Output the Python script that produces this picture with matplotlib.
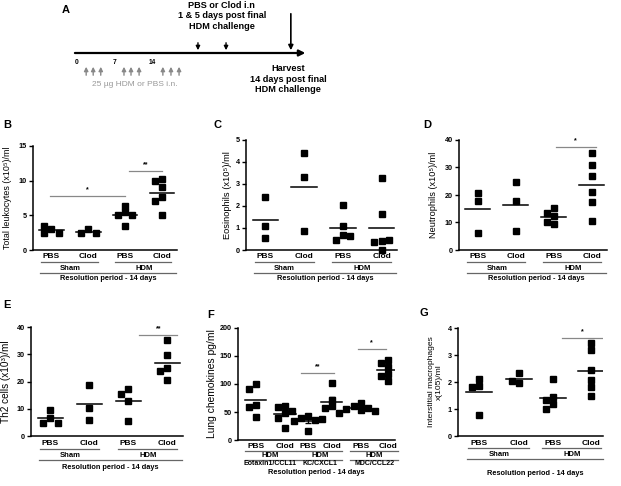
import numpy as np
import matplotlib.pyplot as plt
from matplotlib.transforms import blended_transform_factory

plt.rcParams['font.family'] = ['Liberation Sans', 'DejaVu Sans']
plt.rcParams['font.weight'] = 'bold'

# ---- data ----
groups4 = ['PBS', 'Clod', 'PBS', 'Clod']
treat = ['Sham', 'HDM']
period = 'Resolution period - 14 days'

leukocytes = [[3.1, 3.4, 2.4, 2.5], [3.0, 2.5, 2.5],
              [6.4, 5.5, 5.0, 5.0, 3.4], [10.2, 9.9, 9.1, 7.6, 7.1, 5.0]]
eosinophils = [[2.4, 1.1, 0.53], [4.4, 3.3, 0.87],
               [2.06, 1.1, 0.66, 0.44, 0.64], [3.26, 1.65, 0.4, 0.35, 0.47, 0.0]]
neutrophils = [[20.6, 17.8, 6.2], [24.8, 17.9, 6.9],
               [15.2, 13.6, 12.3, 9.4, 10.2], [35.2, 31.0, 26.9, 21.0, 17.6, 10.6]]
th2 = [[9.6, 6.5, 4.9, 4.9], [18.7, 10.2, 5.8],
       [17.3, 15.5, 13.0, 5.5], [35.2, 29.6, 24.8, 23.7, 20.6]]
chemokines = [[100.6, 90.4, 63.0, 59.6, 40.4], [61.0, 59.6, 52.0, 47.6, 39.0, 22.0],
              [43.0, 40.0, 35.5, 34.0, 36.7, 16.3], [102.0, 72.0, 60.0, 58.0, 49.0],
              [66.0, 60.0, 57.0, 56.0, 54.0, 52.0], [143.0, 138.0, 131.0, 117.0, 114.0, 105.0]]
chemo_names = ['Eotaxin1/CCL11', 'KC/CXCL1', 'MDC/CCL22']
chemo_sem = [False, False, True, True, True, True]
macrophages = [[2.12, 1.86, 1.83, 0.76], [2.35, 1.96, 2.02],
               [2.12, 1.46, 1.34, 1.19, 1.0], [3.44, 3.2, 2.45, 2.06, 1.8, 1.49]]

# timeline (schematic, in days)
day_labels = [0, 7, 14]
hdm_days = [1.7, 3.0, 4.4, 8.7, 10.0, 11.5, 15.9, 17.4, 18.9]
treat_days = [22.4, 27.6]
harvest_day = 39.6

W, H = 621, 486
fig = plt.figure(figsize=(6.21, 4.86), dpi=100)


def box(l, t, r, b):
    return [l / W, 1 - b / H, (r - l) / W, (b - t) / H]


def swarm(vals, ppx, ppy, size=6.5):
    placed = []
    offs = []
    cands = [0, -0.55, 0.55, -1.1, 1.1, -1.65, 1.65, -2.2, 2.2]
    for v in vals:
        y = v * ppy
        for c in cands:
            x = c * size
            if all(abs(x - px) >= size * 0.95 or abs(y - py) >= size * 0.95 for px, py in placed):
                break
        placed.append((x, y))
        offs.append(x / ppx)
    return np.array(offs)


def panel(px, xlim, ylim, yticks, ylabel, ylab_x, letter, letter_xy, lab_fs=6.5):
    l, t, r, b = px
    ax = fig.add_axes(box(l, t, r, b))
    ax.set_xlim(xlim)
    ax.set_ylim(ylim)
    ax.set_yticks(yticks)
    ax.set_xticks([])
    for s in ['top', 'right']:
        ax.spines[s].set_visible(False)
    for s in ['left', 'bottom']:
        ax.spines[s].set_linewidth(1.1)
    ax.tick_params(axis='y', length=3, width=1, labelsize=5.2, pad=1.5)
    ax.set_ylabel(ylabel, fontsize=lab_fs, linespacing=1.1)
    # label x is the right edge of the rotated text
    ax.yaxis.set_label_coords((ylab_x - l) / (r - l), 0.5)
    fig.text(letter_xy[0] / W, 1 - letter_xy[1] / H, letter, fontsize=8,
             ha='left', va='center')
    ppx = (r - l) / (xlim[1] - xlim[0])
    ppy = (b - t) / (ylim[1] - ylim[0])
    return ax, ppx, ppy, b - t


def dots(ax, ppx, ppy, pos, data, hw=0.33, sem=None):
    for i, (x, vals) in enumerate(zip(pos, data)):
        vals = np.array(vals)
        off = swarm(vals, ppx, ppy)
        ax.plot(x + off, vals, 's', color='black', ms=4.3, clip_on=False, zorder=3)
        m = vals.mean()
        ax.plot([x - hw, x + hw], [m, m], color='black', lw=1.1, zorder=4)
        if sem is not None and sem[i]:
            e = vals.std(ddof=1) / np.sqrt(len(vals))
            ax.errorbar(x, m, yerr=e, color='black', lw=1.0, capsize=2.5,
                        capthick=1.0, zorder=4)


def sig(ax, x1, x2, y, txt):
    ax.plot([x1, x2], [y, y], color='#888888', lw=0.9)
    ax.annotate(txt, ((x1 + x2) / 2, y), xytext=(0, 2), textcoords='offset points',
                ha='center', va='bottom', fontsize=5)


def under(ax, h, dy):
    return -dy / h


def xlabels(ax, h, pos, rows, res_dy, xr):
    tr = blended_transform_factory(ax.transData, ax.transAxes)
    cat_dy, line_dy, grp_dy, rline_dy = rows
    for x, g in zip(pos, groups4):
        ax.text(x, under(ax, h, cat_dy), g, transform=tr, ha='center', va='center', fontsize=6)
    for k, name in enumerate(treat):
        a, c = pos[2 * k], pos[2 * k + 1]
        y = under(ax, h, line_dy)
        ax.plot([a - 0.28, c + 0.25], [y, y], transform=tr, color='#666666', lw=0.9, clip_on=False)
        ax.text((a + c) / 2, under(ax, h, grp_dy), name, transform=tr, ha='center',
                va='center', fontsize=5.5)
    y = under(ax, h, rline_dy)
    ax.plot([pos[0] - 0.3, xr], [y, y], transform=tr, color='#666666', lw=0.9, clip_on=False)
    ax.text((pos[0] - 0.3 + xr) / 2, under(ax, h, res_dy), period, transform=tr,
            ha='center', va='center', fontsize=5.3)


# ---- A: timeline ----
axa = fig.add_axes(box(0, 0, W, 110))
axa.set_xlim(-77 / 5.4, (W - 77) / 5.4)
axa.set_ylim(110, 0)
axa.axis('off')
fig.text(62 / W, 1 - 10 / H, 'A', fontsize=8, ha='left', va='center')
axa.annotate('', xy=(42.8, 53), xytext=(-0.9, 53),
             arrowprops=dict(arrowstyle='-|>', color='black', lw=1.6, mutation_scale=9))
for d in day_labels:
    axa.text(d, 63, str(d), ha='center', va='center', fontsize=4.8)
for d in hdm_days:
    axa.annotate('', xy=(d, 64), xytext=(d, 78),
                 arrowprops=dict(arrowstyle='-|>', color='#888888', lw=1.0, mutation_scale=6))
axa.text(10.7, 85, '25 µg HDM or PBS i.n.', ha='center', va='center', fontsize=6,
         color='#999999', fontweight='normal')
for d in treat_days:
    axa.annotate('', xy=(d, 53), xytext=(d, 40),
                 arrowprops=dict(arrowstyle='-|>', color='black', lw=1.0, mutation_scale=6))
axa.annotate('', xy=(harvest_day, 53), xytext=(harvest_day, 11),
             arrowprops=dict(arrowstyle='-|>', color='black', lw=1.2, mutation_scale=7))
axa.text(26.8, 16, 'PBS or Clod i.n\n1 & 5 days post final\nHDM challenge', ha='center',
         va='center', fontsize=6.6, linespacing=1.15)
axa.text(39.1, 79, 'Harvest\n14 days post final\nHDM challenge', ha='center',
         va='center', fontsize=6.6, linespacing=1.15)

pos4 = np.array([1, 2, 3, 4])
rows = (7, 12, 18, 23)

# ---- B ----
ax, ppx, ppy, h = panel((33, 146, 177, 250), (0.5, 4.4), (0, 15), [0, 5, 10, 15],
                        'Total leukocytes (x10⁵)/ml', 12, 'B', (3, 125), 6.4)
dots(ax, ppx, ppy, pos4, leukocytes)
sig(ax, 0.95, 3.0, 7.8, '*')
sig(ax, 3.1, 4.0, 11.4, '**')
xlabels(ax, h, pos4, rows, 29, 4.38)

# ---- C ----
ax, ppx, ppy, h = panel((246, 140, 397, 250), (0.5, 4.4), (0, 5), [0, 1, 2, 3, 4, 5],
                        'Eosinophils (x10⁵)/ml', 232, 'C', (214, 125), 6.7)
dots(ax, ppx, ppy, pos4, eosinophils)
xlabels(ax, h, pos4, rows, 29, 4.38)

# ---- D ----
ax, ppx, ppy, h = panel((459, 140, 607, 250), (0.5, 4.4), (0, 40), [0, 10, 20, 30, 40],
                        'Neutrophils (x10⁵)/ml', 438, 'D', (423, 125), 6.6)
dots(ax, ppx, ppy, pos4, neutrophils)
sig(ax, 3.05, 4.1, 37.5, '*')
xlabels(ax, h, pos4, rows, 29, 4.38)

# ---- E ----
ax, ppx, ppy, h = panel((31, 327, 183, 436), (0.5, 4.4), (0, 40), [0, 10, 20, 30, 40],
                        'Th2 cells (x10³)/ml', 11, 'E', (3, 305), 7.2)
dots(ax, ppx, ppy, pos4, th2)
sig(ax, 3.28, 4.25, 37, '**')
xlabels(ax, h, pos4, (7, 13, 19, 24), 31, 4.38)

# ---- F ----
pos6 = np.array([1, 2.1, 2.97, 3.88, 4.97, 6.0])
ax, ppx, ppy, h = panel((238, 328, 395, 440), (0.32, 6.27), (0, 200), [0, 50, 100, 150, 200],
                        'Lung chemokines pg/ml', 217, 'F', (207, 315), 7.4)
dots(ax, ppx, ppy, pos6, chemokines, hw=0.4, sem=chemo_sem)
sig(ax, 2.7, 3.95, 120, '**')
sig(ax, 4.86, 5.92, 162, '*')
tr = blended_transform_factory(ax.transData, ax.transAxes)
for k, x in enumerate(pos6):
    ax.text(x, under(ax, h, 6), ['PBS', 'Clod'][k % 2], transform=tr, ha='center',
            va='center', fontsize=6)
for k, name in enumerate(chemo_names):
    a, c = pos6[2 * k], pos6[2 * k + 1]
    y = under(ax, h, 11)
    ax.plot([a - 0.4, c + 0.4], [y, y], transform=tr, color='#666666', lw=0.9, clip_on=False)
    ax.text((a + c) / 2, under(ax, h, 15.5), 'HDM', transform=tr, ha='center',
            va='center', fontsize=5.5)
    y = under(ax, h, 19.5)
    ax.plot([a - 0.4, c + 0.4], [y, y], transform=tr, color='#666666', lw=0.9, clip_on=False)
    ax.text((a + c) / 2, under(ax, h, 23.5), name, transform=tr, ha='center',
            va='center', fontsize=5)
ax.text(0.5, under(ax, h, 32), period, transform=ax.transAxes, ha='center',
        va='center', fontsize=5.3)

# ---- G ----
posg = np.array([1, 2, 2.85, 3.8])
ax, ppx, ppy, h = panel((458, 328, 603, 436), (0.475, 4.1), (0, 4), [0, 1, 2, 3, 4],
                        'Interstitial macrophages\nx(105)/ml', 443, 'G', (420, 313), 6.1)
dots(ax, ppx, ppy, posg, macrophages)
sig(ax, 3.08, 4.1, 3.63, '*')
xlabels(ax, h, posg, (7, 12, 18, 23), 37, 4.1)

fig.savefig('out.png', dpi=100)
